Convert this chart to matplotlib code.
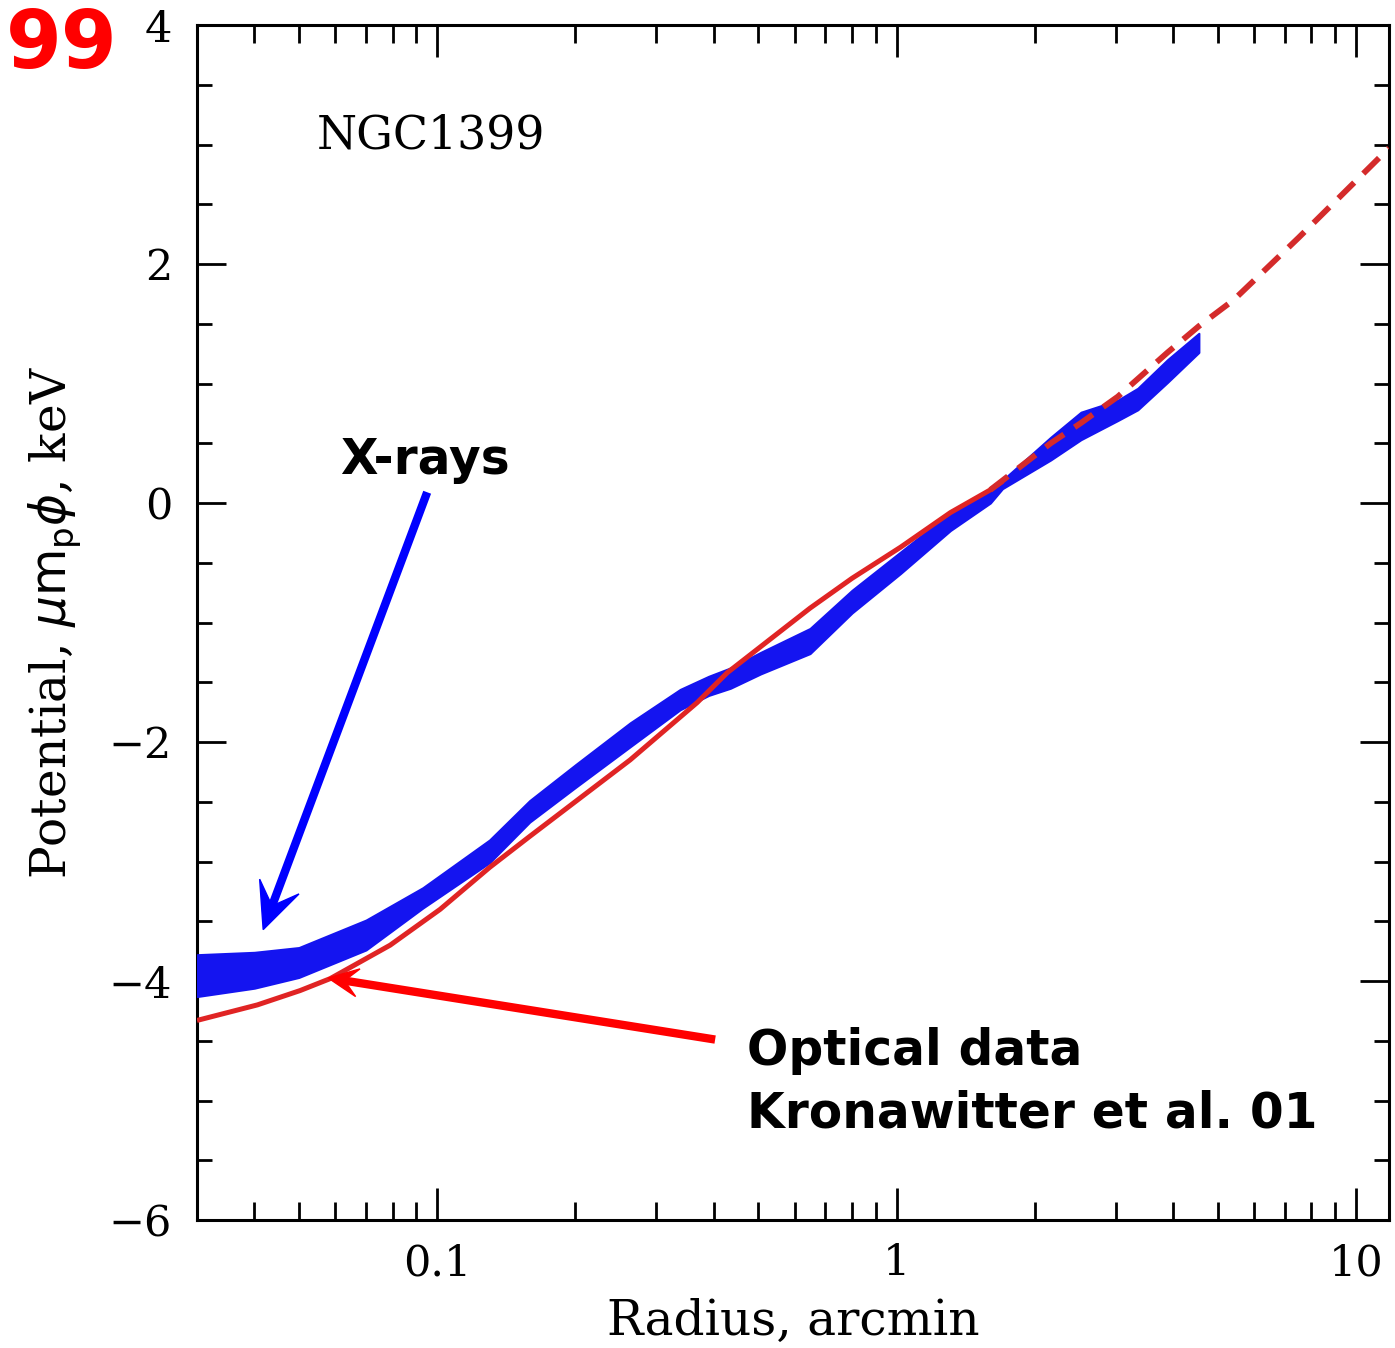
import numpy as np
import matplotlib
matplotlib.use("Agg")
import matplotlib.pyplot as plt
from matplotlib.ticker import MultipleLocator, LogLocator, FixedLocator, FuncFormatter, NullFormatter
from matplotlib.patches import Polygon
from matplotlib.transforms import IdentityTransform

# X-ray potential band (upper / lower envelope), keV
xray_r = [0.030, 0.040, 0.050, 0.070, 0.093, 0.13, 0.159, 0.20, 0.263, 0.338,
          0.39, 0.435, 0.506, 0.648, 0.80, 1.02, 1.31, 1.60, 1.70, 2.165,
          2.52, 3.03, 3.35, 3.89, 4.55]
xray_hi = [-3.78, -3.76, -3.72, -3.49, -3.22, -2.82, -2.49, -2.19, -1.84, -1.56,
           -1.45, -1.38, -1.25, -1.05, -0.73, -0.41, -0.08, 0.12, 0.19, 0.55,
           0.76, 0.86, 0.96, 1.20, 1.42]
xray_lo = [-4.13, -4.06, -3.97, -3.74, -3.39, -3.01, -2.67, -2.38, -2.04, -1.73,
           -1.61, -1.55, -1.43, -1.26, -0.92, -0.59, -0.23, 0.00, 0.12, 0.36,
           0.53, 0.69, 0.78, 1.01, 1.26]

# Optical (Kronawitter et al. 2001) potential
opt_r = [0.030, 0.0406, 0.0503, 0.0585, 0.079, 0.1015, 0.13, 0.159, 0.263,
         0.368, 0.428, 0.648, 0.80, 1.02, 1.31, 1.60, 1.70]
opt_phi = [-4.33, -4.20, -4.08, -3.98, -3.70, -3.40, -3.05, -2.79, -2.15,
           -1.67, -1.42, -0.88, -0.63, -0.37, -0.08, 0.11, 0.18]

# Extrapolation of the optical model
ext_r = [1.60, 2.165, 2.52, 3.03, 3.89, 4.55, 5.42, 7.5, 11.8]
ext_phi = [0.11, 0.50, 0.67, 0.89, 1.26, 1.48, 1.70, 2.22, 2.97]

x_ticks = [0.1, 1, 10]
y_ticks = [-6, -4, -2, 0, 2, 4]

W, H = 1395, 1348
fig = plt.figure(figsize=(W / 100, H / 100), dpi=100)
ax = fig.add_axes([197 / W, 1 - 1220 / H, (1389 - 197) / W, (1220 - 25) / H])

plt.rcParams['mathtext.fontset'] = 'dejavuserif'
serif = 'DejaVu Serif'
blue = '#1414f0'

ax.fill_between(xray_r, xray_lo, xray_hi, color=blue, lw=1.5, edgecolor=blue, zorder=3)
ax.plot(opt_r, opt_phi, color='#e02424', lw=3.6, zorder=4, solid_capstyle='butt')
ax.plot(ext_r, ext_phi, color='#d42b2b', lw=4.2, dashes=(3.8, 2.2), zorder=4)

ax.set_xscale('log')
ax.set_xlim(0.03, 11.8)
ax.set_ylim(-6, 4)

ax.xaxis.set_major_locator(FixedLocator(x_ticks))
ax.xaxis.set_minor_locator(LogLocator(base=10, subs=np.arange(2, 10)))
ax.xaxis.set_major_formatter(FuncFormatter(lambda v, p: f"{v:g}"))
ax.xaxis.set_minor_formatter(NullFormatter())
ax.yaxis.set_major_locator(FixedLocator(y_ticks))
ax.yaxis.set_minor_locator(MultipleLocator(0.5))

for s in ax.spines.values():
    s.set_linewidth(2.2)
ax.tick_params(which='both', direction='in', top=True, right=True, width=2.0)
ax.tick_params(axis='x', which='major', length=23, pad=16, labelsize=31)
ax.tick_params(axis='x', which='minor', length=13)
ax.tick_params(axis='y', which='major', length=21, pad=18, labelsize=31)
ax.tick_params(axis='y', which='minor', length=11)
for lab in ax.get_xticklabels() + ax.get_yticklabels():
    lab.set_fontfamily(serif)

ax.set_xlabel('Radius, arcmin', fontfamily=serif, fontsize=35, labelpad=10)
ax.set_ylabel(r'Potential, $\mu{\rm m}_{\rm p}\phi$, keV', fontfamily=serif,
              fontsize=35, labelpad=18)

ax.text(0.1007, 0.897, 'NGC1399', transform=ax.transAxes, fontfamily=serif,
        fontsize=33, va='baseline', ha='left')

note = dict(fontfamily='DejaVu Sans', fontweight='bold', fontsize=35, color='black')
ax.text(0.191, 0.636, 'X-rays', transform=ax.transAxes, ha='center', va='center', **note)
ax.text(0.4614, 0.1297, 'Optical data', transform=ax.transAxes, ha='left', va='baseline', **note)
ax.text(0.4614, 0.0770, 'Kronawitter et al. 01', transform=ax.transAxes, ha='left',
        va='baseline', **note)

fig.text(0.004, 0.9496, '99', color='#ff0000', fontsize=58, fontweight='bold',
         fontfamily='DejaVu Sans', va='baseline', ha='left')


def arrow(tail, tip, color, lw, head_len, head_half, notch=0.55):
    """Arrow with a swept-back head, drawn in pixel space from data endpoints."""
    t = ax.transData.transform(tail)
    p = ax.transData.transform(tip)
    d = (p - t) / np.hypot(*(p - t))
    n = np.array([-d[1], d[0]])
    base = p - head_len * d
    inner = p - head_len * notch * d
    shaft_end = inner + 0.1 * head_len * d
    ax.add_line(plt.Line2D([t[0], shaft_end[0]], [t[1], shaft_end[1]], color=color,
                           lw=lw, transform=IdentityTransform(), solid_capstyle='butt',
                           zorder=6))
    head = Polygon([p, base + head_half * n, inner, base - head_half * n], closed=True,
                   facecolor=color, edgecolor=color, lw=1, transform=IdentityTransform(),
                   zorder=6)
    ax.add_patch(head)


arrow((0.0951, 0.09), (0.0418, -3.57), '#0000ff', 6.0, 46, 21)
arrow((0.4027, -4.49), (0.0579, -3.975), '#ff0000', 6.0, 30, 14)

fig.savefig('out.png', dpi=100)
